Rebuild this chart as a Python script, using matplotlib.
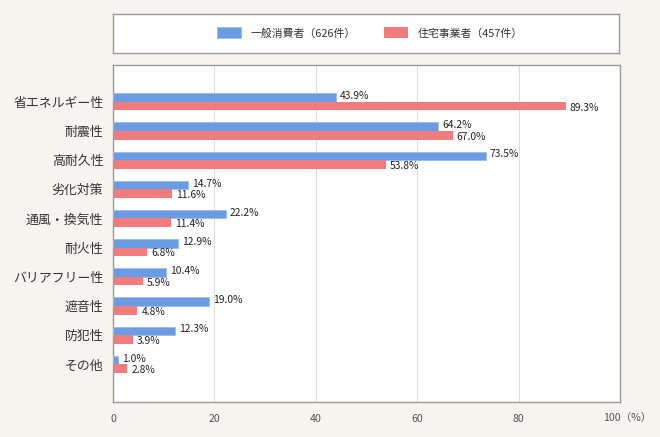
import matplotlib
matplotlib.use("Agg")
import numpy as np
import matplotlib.pyplot as plt

# ==================== DATA ====================
categories = ["省エネルギー性", "耐震性", "高耐久性", "劣化対策", "通風・換気性",
              "耐火性", "バリアフリー性", "遮音性", "防犯性", "その他"]
consumers = [43.9, 64.2, 73.5, 14.7, 22.2, 12.9, 10.4, 19.0, 12.3, 1.0]
builders = [89.3, 67.0, 53.8, 11.6, 11.4, 6.8, 5.9, 4.8, 3.9, 2.8]
series_names = ["一般消費者（626件）", "住宅事業者（457件）"]
x_ticks = [0, 20, 40, 60, 80]

# ==================== STYLE ====================
plt.rcParams["font.family"] = ["Noto Sans CJK JP", "DejaVu Sans"]
BG = "#f5f4ee"
BLUE = "#6b9be2"
RED = "#f07c7e"
FRAME = "#9a9a9a"
TEXT = "#333333"

fig = plt.figure(figsize=(6.6, 4.37), dpi=100, facecolor=BG)
W, H = 660, 437

def px_axes(x0, y0, x1, y1):
    return fig.add_axes([x0 / W, 1 - y1 / H, (x1 - x0) / W, (y1 - y0) / H])

# legend box
lax = px_axes(113, 14, 619, 53)
lax.set_xticks([])
lax.set_yticks([])
for s in lax.spines.values():
    s.set_color(FRAME)
    s.set_linewidth(1.0)

# main plot
ax = px_axes(113, 65, 620, 402)
ax.set_facecolor("white")
for s in ax.spines.values():
    s.set_color(FRAME)
    s.set_linewidth(1.0)

y = np.arange(len(categories))
h = 0.295
b1 = ax.barh(y - h / 2, consumers, height=h, color=BLUE, edgecolor="#9cbcec",
             linewidth=0.6, label=series_names[0], zorder=3)
b2 = ax.barh(y + h / 2, builders, height=h, color=RED, linewidth=0,
             label=series_names[1], zorder=3)

for yy, v in zip(y - h / 2, consumers):
    ax.text(v + 0.8, yy - 0.05, f"{v:.1f}%", va="center", ha="left",
            fontsize=7.4, color="#222222", zorder=4)
for yy, v in zip(y + h / 2, builders):
    ax.text(v + 0.8, yy + 0.05, f"{v:.1f}%", va="center", ha="left",
            fontsize=7.4, color="#222222", zorder=4)

ax.set_xlim(0, 100)
ax.set_ylim(len(categories) - 1 + 1.29, -1.26)
ax.set_yticks(y)
ax.set_yticklabels(categories, fontsize=9.3, color=TEXT)
ax.set_xticks(x_ticks)
ax.set_xticklabels([str(t) for t in x_ticks], fontsize=7.6, color="#555555")
ax.tick_params(axis="both", length=0)
ax.tick_params(axis="y", pad=7)
ax.tick_params(axis="x", pad=9)
ax.xaxis.grid(True, color="#dddddd", linewidth=0.8, zorder=0)
ax.set_axisbelow(True)
ax.text(96.6, -0.048, "100（%）", transform=ax.get_xaxis_transform(),
        ha="left", va="center", fontsize=7.6, color="#555555")

fig.legend(handles=[b1, b2], loc="center", bbox_to_anchor=(370 / W, 1 - 33 / H),
           ncol=2, frameon=False, fontsize=7.8, handlelength=2.2,
           handleheight=1.15, handletextpad=0.9, columnspacing=2.6,
           labelcolor=TEXT)

fig.savefig("out.png", dpi=100, facecolor=BG)
